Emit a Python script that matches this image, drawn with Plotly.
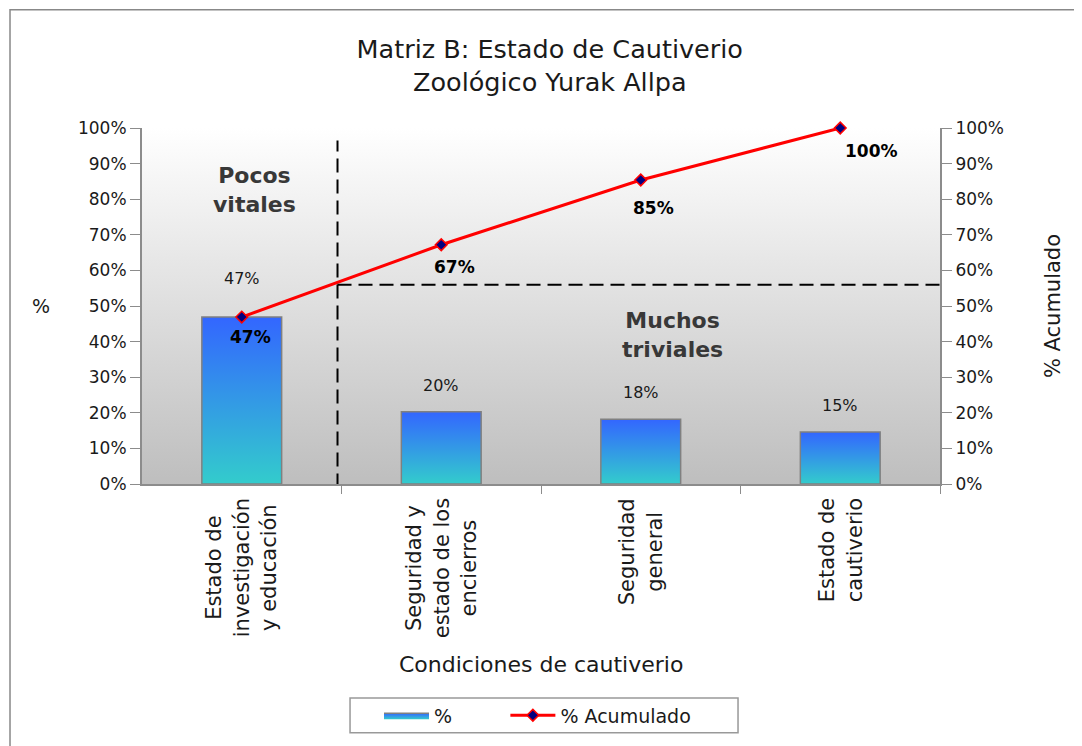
import plotly.graph_objects as go

categories = ["Estado de<br>investigación<br>y educación",
              "Seguridad y<br>estado de los<br>encierros",
              "Seguridad<br>general",
              "Estado de<br>cautiverio"]
pct = [46.9, 20.3, 18.2, 14.6]
pct_labels = ["47%", "20%", "18%", "15%"]
cum = [46.9, 67.2, 85.4, 100.0]
cum_labels = ["47%", "67%", "85%", "100%"]
tick_vals = [0, 10, 20, 30, 40, 50, 60, 70, 80, 90, 100]
tick_text = [f"{v}%" for v in tick_vals]

FONT = "DejaVu Sans"
TXT = "#1a1a1a"
fig = go.Figure()

# plot-area background gradient
fig.add_trace(go.Scatter(x=[-0.5, 3.5, 3.5, -0.5, -0.5], y=[0, 0, 100, 100, 0],
                         mode="lines", line=dict(width=0), fill="toself",
                         fillgradient=dict(type="vertical",
                                           colorscale=[[0, "#BEBEBE"], [1, "#FFFFFF"]]),
                         showlegend=False, hoverinfo="skip"))

bw = 0.2
for i, v in enumerate(pct):
    fig.add_trace(go.Scatter(x=[i - bw, i + bw, i + bw, i - bw, i - bw], y=[0, 0, v, v, 0],
                             mode="lines", line=dict(color="#808080", width=1.5),
                             fill="toself",
                             fillgradient=dict(type="vertical",
                                               colorscale=[[0, "#33CCCC"], [1, "#3366FF"]]),
                             name="%" + "\u00a0" * 8, legendgroup="pct", showlegend=(i == 0),
                             hoverinfo="skip"))

fig.add_trace(go.Scatter(x=list(range(len(cum))), y=cum, mode="lines+markers",
                         name="% Acumulado", cliponaxis=False,
                         line=dict(color="#FF0000", width=3),
                         marker=dict(symbol="diamond", size=9, color="#000080",
                                     line=dict(color="#FF0000", width=1.5))))
# invisible trace for secondary axis
fig.add_trace(go.Scatter(x=[0], y=[0], yaxis="y2", mode="markers",
                         marker=dict(opacity=0), showlegend=False, hoverinfo="skip"))

ann = []
for i, (v, t) in enumerate(zip(pct, pct_labels)):
    ann.append(dict(x=i, y=v, text=t, showarrow=False, yanchor="bottom",
                    yshift=27 if i == 0 else 15, font=dict(family=FONT, size=16, color=TXT)))
cum_dx = [9, 13, 13, 31]
cum_dy = [-20, -22, -28, -23]
for i, (v, t) in enumerate(zip(cum, cum_labels)):
    ann.append(dict(x=i, y=v, text="<b>" + t + "</b>", showarrow=False,
                    xshift=cum_dx[i], yshift=cum_dy[i],
                    font=dict(family=FONT, size=17, color="#000000")))
for i, c in enumerate(categories):
    ann.append(dict(x=i, y=0, yref="paper", text=c, showarrow=False, textangle=-90,
                    yanchor="top", yshift=-12, align="center",
                    font=dict(family=FONT, size=21, color=TXT)))
ann += [
    dict(x=0.066, y=82.6, text="<b>Pocos<br>vitales</b>", showarrow=False,
         font=dict(family=FONT, size=22, color="#383838")),
    dict(x=2.16, y=41.9, text="<b>Muchos<br>triviales</b>", showarrow=False,
         font=dict(family=FONT, size=22, color="#383838")),
    dict(x=-0.14, xref="paper", y=0.5, yref="paper", text="%", showarrow=False,
         font=dict(family=FONT, size=19, color=TXT)),
    dict(x=0.5, xref="paper", y=-0.508, yref="paper", text="Condiciones de cautiverio",
         showarrow=False, yanchor="middle",
         font=dict(family=FONT, size=22, color=TXT)),
]

shapes = [
    dict(type="line", x0=0.48, x1=0.48, y0=-1, y1=96.5,
         line=dict(color="black", width=2, dash="14px,7px")),
    dict(type="line", x0=0.48, x1=3.5, y0=56, y1=56,
         line=dict(color="black", width=2, dash="14px,7px")),
    dict(type="rect", xref="paper", yref="paper", x0=-0.1654, x1=1.3, y0=-1.0, y1=1.332,
         line=dict(color="#888888", width=1.5), layer="below"),
    # legend frame
    dict(type="rect", xref="paper", yref="paper", x0=0.2607, x1=0.7469, y0=-0.699, y1=-0.601,
         line=dict(color="#999999", width=1.5), fillcolor="white", layer="below"),
]

axis_common = dict(range=[0, 100], tickvals=tick_vals, ticktext=tick_text,
                   showgrid=False, zeroline=False, showline=True, linecolor="#8c8c8c",
                   linewidth=2, ticks="outside", ticklen=10, tickcolor="#8c8c8c",
                   tickfont=dict(family=FONT, size=17, color=TXT))

fig.update_layout(
    width=1082, height=746,
    margin=dict(l=134, r=150, t=120, b=270),
    paper_bgcolor="white", plot_bgcolor="white",
    title=dict(text="Matriz B: Estado de Cautiverio<br>Zoológico Yurak Allpa",
               x=0.511, xref="paper", y=0.933, yref="container", yanchor="middle",
               font=dict(family=FONT, size=25.5, color=TXT)),
    xaxis=dict(range=[-0.5, 3.5], tickvals=[0.5, 1.5, 2.5, 3.5], showticklabels=False,
               ticks="outside", ticklen=8, tickcolor="#8c8c8c", showgrid=False, zeroline=False,
               showline=True, linecolor="#8c8c8c", linewidth=2),
    yaxis=dict(**axis_common),
    yaxis2=dict(**axis_common, overlaying="y", side="right",
                title=dict(text="% Acumulado", font=dict(family=FONT, size=21, color=TXT),
                           standoff=42)),
    legend=dict(orientation="h", x=0.297, xanchor="left", y=-0.65, yanchor="middle",
                borderwidth=0, bgcolor="rgba(0,0,0,0)",
                font=dict(family=FONT, size=19, color=TXT), itemwidth=45),
    annotations=ann, shapes=shapes, showlegend=True,
)

fig.write_html("out.html")
